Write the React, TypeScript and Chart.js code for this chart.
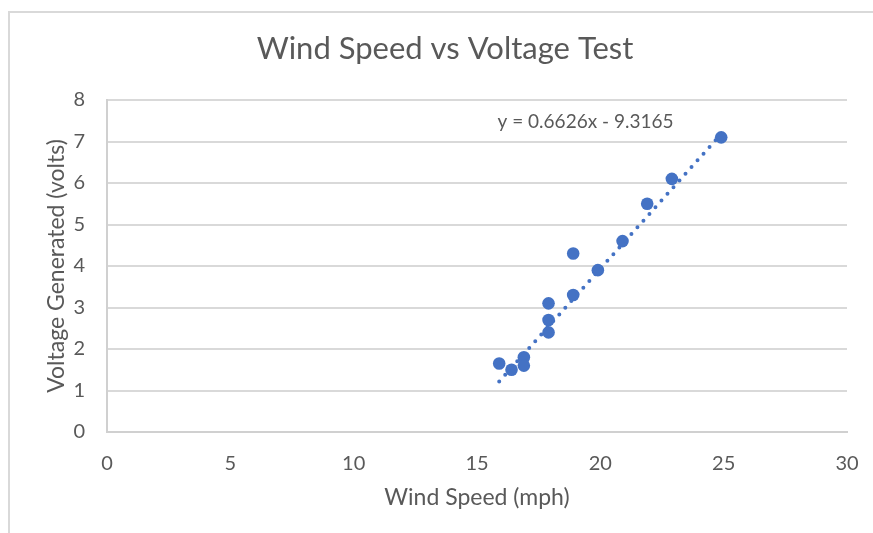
import React, { useEffect, useRef } from "react";
import { Chart, registerables } from "chart.js";

Chart.register(...registerables);

const chartTitle = "Wind Speed vs Voltage Test";
const xTitle = "Wind Speed (mph)";
const yTitle = "Voltage Generated (volts)";

const windSpeed = [15.9, 16.4, 16.9, 16.9, 17.9, 17.9, 17.9, 18.9, 18.9, 19.9, 20.9, 21.9, 22.9, 24.9];
const voltage = [1.65, 1.5, 1.8, 1.6, 3.1, 2.7, 2.4, 4.3, 3.3, 3.9, 4.6, 5.5, 6.1, 7.1];

const xTicks = [0, 5, 10, 15, 20, 25, 30];
const yTicks = [0, 1, 2, 3, 4, 5, 6, 7, 8];

const trendSlope = 0.6626;
const trendIntercept = -9.3165;
const trendLabel = "y = 0.6626x - 9.3165";

const FONT = "Lato, 'Open Sans', sans-serif";
const TEXT = "#595959";
const BLUE = "#4472C4";

export default function App() {
  const ref = useRef<HTMLCanvasElement | null>(null);

  useEffect(() => {
    if (!ref.current) return;
    const points = windSpeed.map((x, i) => ({ x, y: voltage[i] }));
    const xMin = Math.min(...windSpeed);
    const xMax = Math.max(...windSpeed);
    const trend = [xMin, xMax].map((x) => ({ x, y: trendSlope * x + trendIntercept }));

    const labelPlugin = {
      id: "trendLabel",
      afterDatasetsDraw(chart: any) {
        const { ctx, scales } = chart;
        ctx.save();
        ctx.font = `19px ${FONT}`;
        ctx.fillStyle = TEXT;
        ctx.textAlign = "center";
        ctx.textBaseline = "middle";
        ctx.fillText(trendLabel, scales.x.getPixelForValue(19.4), scales.y.getPixelForValue(7.47));
        ctx.restore();
      },
    };

    const chart = new Chart(ref.current, {
      type: "scatter",
      data: {
        datasets: [
          {
            type: "line",
            label: "Trend",
            data: trend,
            borderColor: BLUE,
            borderWidth: 4,
            borderDash: [0, 9],
            borderCapStyle: "round",
            pointRadius: 0,
            fill: false,
            order: 0,
          } as any,
          {
            label: "Voltage",
            data: points,
            backgroundColor: BLUE,
            borderColor: BLUE,
            pointRadius: 6.3,
            borderWidth: 0,
            order: 1,
          },
        ],
      },
      options: {
        responsive: false,
        animation: false,
        layout: { padding: { left: 43, right: 26, top: 0, bottom: 22 } },
        plugins: {
          legend: { display: false },
          tooltip: { enabled: false },
          title: {
            display: true,
            text: chartTitle,
            color: TEXT,
            font: { family: FONT, size: 31, weight: "normal" },
            padding: { top: 30, bottom: 32.8 },
          },
        },
        scales: {
          x: {
            type: "linear",
            min: 0,
            max: 30,
            afterBuildTicks: (s: any) => {
              s.ticks = xTicks.map((v) => ({ value: v }));
            },
            afterFit: (s: any) => {
              s.height = 79;
              s.paddingRight = 0;
              s.paddingLeft = 0;
            },
            grid: { display: false, drawTicks: false },
            border: { display: true, color: "#d0d0d0", width: 2 },
            ticks: { color: TEXT, font: { family: FONT, size: 20 }, padding: 20, maxRotation: 0 },
            title: {
              display: true,
              text: xTitle,
              color: TEXT,
              font: { family: FONT, size: 23 },
              padding: 0,
            },
          },
          y: {
            type: "linear",
            min: 0,
            max: 8,
            afterBuildTicks: (s: any) => {
              s.ticks = yTicks.map((v) => ({ value: v }));
            },
            afterFit: (s: any) => {
              s.width = 64;
            },
            grid: { color: "#d9d9d9", lineWidth: 2, drawTicks: false },
            border: { display: true, color: "#d0d0d0", width: 2 },
            ticks: { color: TEXT, font: { family: FONT, size: 20 }, padding: 22 },
            title: {
              display: true,
              text: yTitle,
              color: TEXT,
              font: { family: FONT, size: 23 },
              padding: 0,
            },
          },
        },
      },
      plugins: [labelPlugin],
    } as any);
    return () => chart.destroy();
  }, []);

  return (
    <div style={{ position: "fixed", left: 0, top: 0, width: 873, height: 533, background: "#fff" }}>
      <div
        style={{
          position: "absolute",
          left: 8,
          top: 11,
          right: 0,
          bottom: 0,
          borderTop: "2px solid #d9d9d9",
          borderLeft: "2px solid #d9d9d9",
        }}
      />
      <canvas ref={ref} width={873} height={533} style={{ position: "absolute", left: 0, top: 0, display: "block" }} />
    </div>
  );
}
